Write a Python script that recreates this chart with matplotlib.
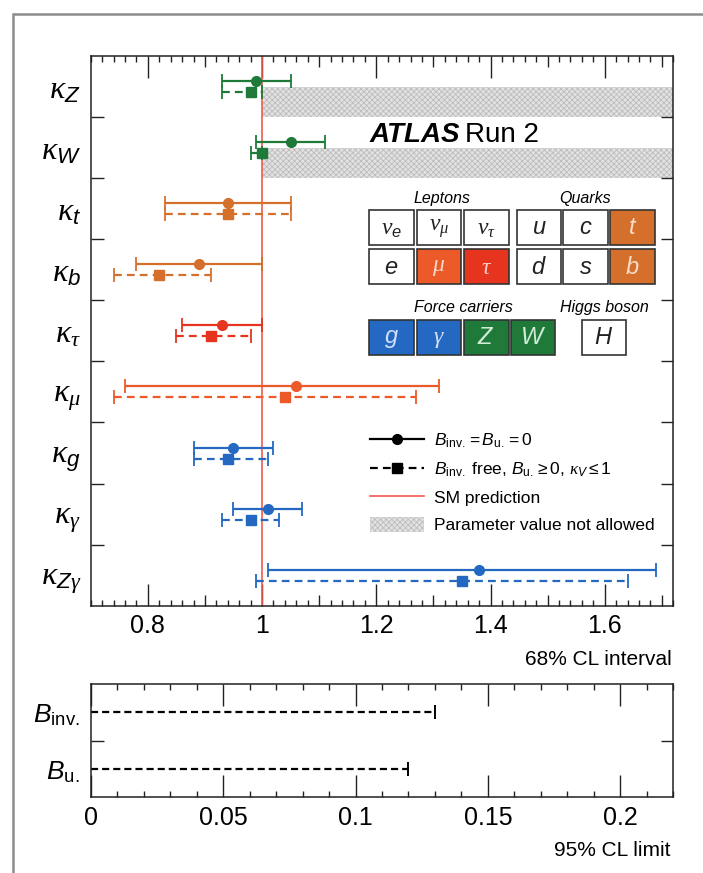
import numpy as np
import matplotlib
matplotlib.use("Agg")
import matplotlib.pyplot as plt
from matplotlib.patches import Rectangle
from matplotlib.lines import Line2D
from matplotlib.ticker import MultipleLocator, FixedLocator, FuncFormatter

plt.rcParams['font.family'] = ['Liberation Sans', 'DejaVu Sans']
# greek letters in serif italic, latin symbols through \mathsf in sans italic
plt.rcParams['mathtext.fontset'] = 'custom'
plt.rcParams['mathtext.rm'] = 'Liberation Sans'
plt.rcParams['mathtext.it'] = 'Liberation Serif:italic'
plt.rcParams['mathtext.sf'] = 'Liberation Sans:italic'
plt.rcParams['mathtext.bf'] = 'Liberation Sans:bold'
plt.rcParams['hatch.linewidth'] = 0.6

# coupling modifiers, listed top to bottom
params = [r'$\kappa_{\mathsf{Z}}$', r'$\kappa_{\mathsf{W}}$', r'$\kappa_{\mathsf{t}}$',
          r'$\kappa_{\mathsf{b}}$', r'$\kappa_\tau$', r'$\kappa_\mu$',
          r'$\kappa_{\mathsf{g}}$', r'$\kappa_\gamma$', r'$\kappa_{\mathsf{Z}\gamma}$']

GREEN = '#1f7a3a'
ORANGE = '#d56f2c'
ORED = '#ec5a2a'
RED = '#e6341f'
BLUE = '#2468c2'
colors = [GREEN, GREEN, ORANGE, ORANGE, RED, ORED, BLUE, BLUE, BLUE]

# B_inv = B_u = 0
val_fix = [0.99, 1.05, 0.94, 0.89, 0.93, 1.06, 0.95, 1.01, 1.38]
lo_fix = [0.93, 0.99, 0.83, 0.78, 0.86, 0.76, 0.88, 0.95, 1.01]
hi_fix = [1.05, 1.11, 1.05, 1.00, 1.00, 1.31, 1.02, 1.07, 1.69]

# B_inv free, B_u >= 0, kappa_V <= 1
val_free = [0.98, 1.00, 0.94, 0.82, 0.91, 1.04, 0.94, 0.98, 1.35]
lo_free = [0.93, 0.98, 0.83, 0.74, 0.85, 0.74, 0.88, 0.93, 0.99]
hi_free = [1.00, 1.00, 1.05, 0.91, 0.98, 1.27, 1.01, 1.03, 1.64]

kv_max = 1.0          # kappa_Z, kappa_W bounded from above in the free fit
kv_rows = [0, 1]

# 95% CL upper limits on the branching ratios
br_names = [r'$\mathsf{B}_{\rm inv.}$', r'$\mathsf{B}_{\rm u.}$']
br_limits = [0.13, 0.12]

W, H = 703, 873
fig = plt.figure(figsize=(W / 100, H / 100), dpi=100)
fig.patch.set_facecolor('white')

def px_axes(x0, y0, x1, y1):
    return fig.add_axes([x0 / W, 1 - y1 / H, (x1 - x0) / W, (y1 - y0) / H])

SM_COLOR = '#f25a50'
HATCH = dict(facecolor='#e2e2e2', edgecolor='#bcbcbc', hatch='xxxxxx', linewidth=0)
DASH = (0, (3.5, 2.3))

# ---- upper panel: coupling modifiers ----
ax = px_axes(90.7, 56, 673.3, 605.7)
x_lo, x_hi = 0.70, 1.72
ax.set_xlim(x_lo, x_hi)
ax.set_ylim(len(params) - 0.5, -0.5)

for r in kv_rows:
    ax.fill_between([kv_max, x_hi], r, r + 0.5, zorder=1, **HATCH)

ax.axvline(1.0, color=SM_COLOR, lw=1.2, zorder=2)

for i, c in enumerate(colors):
    ax.errorbar(val_fix[i], i - 0.09, xerr=[[val_fix[i] - lo_fix[i]], [hi_fix[i] - val_fix[i]]],
                fmt='o', color=c, ms=7, lw=1.6, capsize=5, capthick=1.3, zorder=3)
    eb = ax.errorbar(val_free[i], i + 0.09, xerr=[[val_free[i] - lo_free[i]], [hi_free[i] - val_free[i]]],
                     fmt='s', color=c, ms=7, lw=1.6, capsize=5, capthick=1.3, zorder=3)
    eb[2][0].set_linestyle(DASH)

xt = np.round(np.arange(0.8, 1.71, 0.1), 2)
ax.xaxis.set_major_locator(FixedLocator(xt))
ax.xaxis.set_major_formatter(FuncFormatter(lambda v, p: '%g' % v if round(v * 10) % 2 == 0 else ''))
ax.xaxis.set_minor_locator(MultipleLocator(0.02))
ax.set_yticks(range(len(params)))
ax.set_yticklabels(params, fontsize=23)
ax.set_yticks(np.arange(0.5, len(params) - 1, 1), minor=True)

ax.tick_params(which='both', direction='in', top=True, right=True, width=1, color='#222222')
ax.tick_params(axis='x', which='major', length=16, labelsize=18, pad=6)
ax.tick_params(axis='x', which='minor', length=4)
ax.tick_params(axis='y', which='major', length=0, pad=7)
ax.tick_params(axis='y', which='minor', length=9)
for t, v in zip(ax.xaxis.get_major_ticks(len(xt)), xt):
    if round(v * 10) % 2:
        t.tick1line.set_markersize(8)
        t.tick2line.set_markersize(8)
for s in ax.spines.values():
    s.set_linewidth(1.1)
    s.set_color('#222222')

handles = [
    Line2D([], [], color='k', lw=1.6, marker='o', ms=7),
    Line2D([], [], color='k', lw=1.6, ls=DASH, marker='s', ms=7),
    Line2D([], [], color=SM_COLOR, lw=1.2),
    Rectangle((0, 0), 1, 1, **HATCH),
]
labels = [r'$\mathsf{B}_{\rm inv.} = \mathsf{B}_{\rm u.} = 0$',
          r'$\mathsf{B}_{\rm inv.}$ free, $\mathsf{B}_{\rm u.} \geq 0$, $\kappa_{\mathsf{V}} \leq 1$',
          'SM prediction',
          'Parameter value not allowed']
ax.legend(handles, labels, loc='upper left', bbox_to_anchor=(370 / W, 1 - 432 / H),
          bbox_transform=fig.transFigure, frameon=False, fontsize=12.5, handlelength=3.1,
          handleheight=1.0, handletextpad=0.6, labelspacing=0.6, borderpad=0, borderaxespad=0)

# ---- lower panel: branching ratio limits ----
ax2 = px_axes(90.7, 684, 673.3, 797.3)
ax2.set_xlim(0, 0.22)
ax2.set_ylim(len(br_names) - 0.5, -0.5)
for i, lim in enumerate(br_limits):
    ax2.plot([0, lim], [i, i], color='k', lw=1.6, ls=(0, (3.2, 1.8)))
    ax2.plot([lim], [i], color='k', marker='|', ms=10, mew=1.4)
ax2.xaxis.set_major_locator(MultipleLocator(0.05))
ax2.xaxis.set_major_formatter(FuncFormatter(lambda v, p: '%g' % round(v, 3)))
ax2.xaxis.set_minor_locator(MultipleLocator(0.01))
ax2.set_yticks(range(len(br_names)))
ax2.set_yticklabels(br_names, fontsize=19)
ax2.set_yticks([0.5], minor=True)
ax2.tick_params(which='both', direction='in', top=True, right=True, width=1, color='#222222')
ax2.tick_params(axis='x', which='major', length=16, labelsize=18, pad=6)
ax2.tick_params(axis='x', which='minor', length=4)
ax2.tick_params(axis='y', which='major', length=0, pad=8)
ax2.tick_params(axis='y', which='minor', length=9)
for s in ax2.spines.values():
    s.set_linewidth(1.1)
    s.set_color('#222222')

# ---- overlay: frame, titles and the particle table ----
ov = fig.add_axes([0, 0, 1, 1], zorder=5)
ov.set_xlim(0, W)
ov.set_ylim(H, 0)
ov.axis('off')

ov.plot([12.7, 12.7, W], [H, 14, 14], color='#8c8c8c', lw=1.8, solid_joinstyle='miter')

ov.text(672, 665, '68% CL interval', ha='right', va='baseline', fontsize=15)
ov.text(670, 856, '95% CL limit', ha='right', va='baseline', fontsize=15)

ov.text(370, 135, 'ATLAS', ha='left', va='center', fontsize=20, fontweight='bold', fontstyle='italic')
ov.text(465, 135, 'Run 2', ha='left', va='center', fontsize=20)

WHITE = 'white'
tint = {ORANGE: '#f7dcc8', ORED: '#fbd8c8', RED: '#fbd0c8', BLUE: '#d0e0f6', GREEN: '#d2ead8', WHITE: '#222222'}
fermions = [
    [(r'$\nu_{\mathsf{e}}$', WHITE), (r'$\nu_\mu$', WHITE), (r'$\nu_\tau$', WHITE),
     (r'$\mathsf{u}$', WHITE), (r'$\mathsf{c}$', WHITE), (r'$\mathsf{t}$', ORANGE)],
    [(r'$\mathsf{e}$', WHITE), (r'$\mu$', ORED), (r'$\tau$', RED),
     (r'$\mathsf{d}$', WHITE), (r'$\mathsf{s}$', WHITE), (r'$\mathsf{b}$', ORANGE)],
]
col_x = [369.3, 416.7, 464.0, 516.7, 563.3, 610.0]
row_y = [210, 249]
bw, bh = 44.5, 35

def box(x, y, sym, fc):
    ov.add_patch(Rectangle((x, y), bw, bh, facecolor=fc, edgecolor='#333333', lw=1.2))
    ov.text(x + bw / 2, y + bh / 2 + 1, sym, ha='center', va='center', fontsize=17, color=tint[fc])

for ry, row in zip(row_y, fermions):
    for cx, (sym, fc) in zip(col_x, row):
        box(cx, ry, sym, fc)

bosons = [(r'$\mathsf{g}$', BLUE), (r'$\gamma$', BLUE), (r'$\mathsf{Z}$', GREEN), (r'$\mathsf{W}$', GREEN)]
for cx, (sym, fc) in zip([369.3, 416.7, 464.0, 510.5], bosons):
    box(cx, 320, sym, fc)
box(581.7, 320, r'$\mathsf{H}$', WHITE)

for x, y, s in [(441.7, 199, 'Leptons'), (585, 199, 'Quarks'),
                (463.3, 307.5, 'Force carriers'), (604, 307.5, 'Higgs boson')]:
    ov.text(x, y, s, ha='center', va='center', fontsize=11.5, fontstyle='italic')

fig.savefig('out.png', dpi=100)
